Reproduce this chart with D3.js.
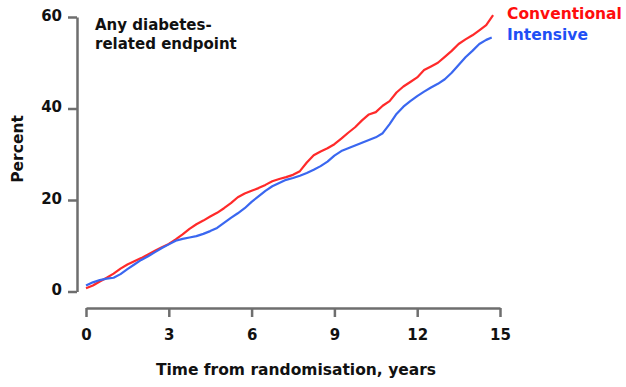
<!DOCTYPE html>
<html>
<head>
<meta charset="utf-8">
<script src="https://cdn.jsdelivr.net/npm/d3@7"></script>
<style>
  body { margin: 0; background: #fff; }
  svg { display: block; font-family: "DejaVu Sans", Verdana, sans-serif; font-weight: bold; }
</style>
</head>
<body>
<div id="chart"></div>
<script>
// years from randomisation, cumulative % with any diabetes-related endpoint
const conventionalYears = [0, 0.25, 0.5, 0.75, 1, 1.25, 1.5, 1.75, 2, 2.25, 2.5, 2.75, 3, 3.25, 3.5, 3.75, 4, 4.25, 4.5, 4.75,
  5, 5.25, 5.5, 5.75, 6, 6.25, 6.5, 6.75, 7, 7.25, 7.5, 7.75, 8, 8.25, 8.5, 8.75, 9, 9.25, 9.5, 9.75,
  10, 10.25, 10.5, 10.75, 11, 11.25, 11.5, 11.75, 12, 12.25, 12.5, 12.75, 13, 13.25, 13.5, 13.75, 14, 14.25, 14.5, 14.75];
const conventionalPct = [0.7, 1.3, 2.2, 3.0, 3.9, 5.0, 5.9, 6.6, 7.3, 8.1, 8.9, 9.7, 10.4, 11.4, 12.5, 13.7, 14.7, 15.5, 16.4, 17.2,
  18.2, 19.3, 20.6, 21.4, 22.0, 22.6, 23.3, 24.1, 24.6, 25.0, 25.5, 26.3, 28.2, 29.8, 30.6, 31.3, 32.2, 33.4, 34.7, 35.9,
  37.4, 38.7, 39.2, 40.6, 41.6, 43.5, 44.8, 45.8, 46.8, 48.4, 49.2, 50.0, 51.3, 52.6, 54.1, 55.1, 56.0, 57.1, 58.2, 60.4];

const intensiveYears = [0, 0.25, 0.5, 0.75, 1, 1.25, 1.5, 1.75, 2, 2.25, 2.5, 2.75, 3, 3.25, 3.5, 3.75, 4, 4.25, 4.5, 4.75,
  5, 5.25, 5.5, 5.75, 6, 6.25, 6.5, 6.75, 7, 7.25, 7.5, 7.75, 8, 8.25, 8.5, 8.75, 9, 9.25, 9.5, 9.75,
  10, 10.25, 10.5, 10.75, 11, 11.25, 11.5, 11.75, 12, 12.25, 12.5, 12.75, 13, 13.25, 13.5, 13.75, 14, 14.25, 14.5, 14.7];
const intensivePct = [1.3, 2.0, 2.5, 2.8, 3.0, 3.8, 4.9, 5.9, 6.9, 7.7, 8.6, 9.5, 10.3, 11.1, 11.5, 11.8, 12.1, 12.6, 13.2, 13.9,
  15.0, 16.1, 17.1, 18.2, 19.6, 20.8, 22.0, 23.0, 23.7, 24.4, 24.8, 25.3, 25.9, 26.6, 27.4, 28.4, 29.7, 30.7, 31.3, 31.9,
  32.5, 33.1, 33.7, 34.6, 36.6, 38.8, 40.4, 41.6, 42.7, 43.7, 44.6, 45.4, 46.4, 47.8, 49.5, 51.2, 52.6, 54.1, 55.0, 55.5];

const xTicks = [0, 3, 6, 9, 12, 15];
const yTicks = [0, 20, 40, 60];

const width = 626, height = 387;
const axisColor = '#6e6e6e';
const redLine = '#ff2a2a';
const blueLine = '#3a67f0';
const redText = '#ff0d0d';
const blueText = '#1f50f5';

const svg = d3.select('#chart').append('svg')
  .attr('width', width)
  .attr('height', height);

const x = d3.scaleLinear().domain([0, 15]).range([86, 500]);
const y = d3.scaleLinear().domain([0, 60]).range([291.5, 17]);

// y axis sits left of the plot, x axis below it (detached)
const yAxis = svg.append('g')
  .attr('transform', 'translate(77,0)')
  .call(d3.axisLeft(y).tickValues(yTicks).tickSize(9).tickSizeOuter(0).tickPadding(6));

const xAxis = svg.append('g')
  .attr('transform', 'translate(0,308)')
  .call(d3.axisBottom(x).tickValues(xTicks).tickSize(9).tickSizeOuter(0).tickPadding(12));

[yAxis, xAxis].forEach(ax => {
  ax.select('.domain').attr('stroke', axisColor).attr('stroke-width', 2.5);
  ax.selectAll('.tick line').attr('stroke', axisColor).attr('stroke-width', 2.5);
  ax.selectAll('.tick text')
    .attr('fill', '#111')
    .attr('font-family', '"DejaVu Sans", Verdana, sans-serif')
    .attr('font-weight', 'bold')
    .attr('font-size', '15px');
});
yAxis.selectAll('.tick text').attr('dy', '0.22em');

const line = d3.line()
  .x(d => x(d[0]))
  .y(d => y(d[1]));

const series = [
  { name: 'Conventional', years: conventionalYears, pct: conventionalPct, color: redLine },
  { name: 'Intensive', years: intensiveYears, pct: intensivePct, color: blueLine }
];

series.forEach(s => {
  svg.append('path')
    .datum(s.years.map((t, i) => [t, s.pct[i]]))
    .attr('d', line)
    .attr('fill', 'none')
    .attr('stroke', s.color)
    .attr('stroke-width', 2.2)
    .attr('stroke-linejoin', 'round');
});

// legend
svg.append('text')
  .attr('x', 507).attr('y', 19)
  .attr('font-size', '15.5px')
  .attr('fill', redText)
  .text('Conventional');

svg.append('text')
  .attr('x', 507).attr('y', 40)
  .attr('font-size', '15.5px')
  .attr('fill', blueText)
  .text('Intensive');

// panel label
const note = svg.append('text')
  .attr('x', 95).attr('y', 30)
  .attr('font-size', '15px')
  .attr('fill', '#111');
note.append('tspan').attr('x', 95).text('Any diabetes-');
note.append('tspan').attr('x', 95).attr('dy', 18.5).text('related endpoint');

// axis titles
svg.append('text')
  .attr('x', 296).attr('y', 375)
  .attr('text-anchor', 'middle')
  .attr('font-size', '15.5px')
  .attr('fill', '#111')
  .text('Time from randomisation, years');

svg.append('text')
  .attr('transform', 'translate(23,149) rotate(-90)')
  .attr('text-anchor', 'middle')
  .attr('font-size', '15.5px')
  .attr('fill', '#111')
  .text('Percent');
</script>
</body>
</html>
